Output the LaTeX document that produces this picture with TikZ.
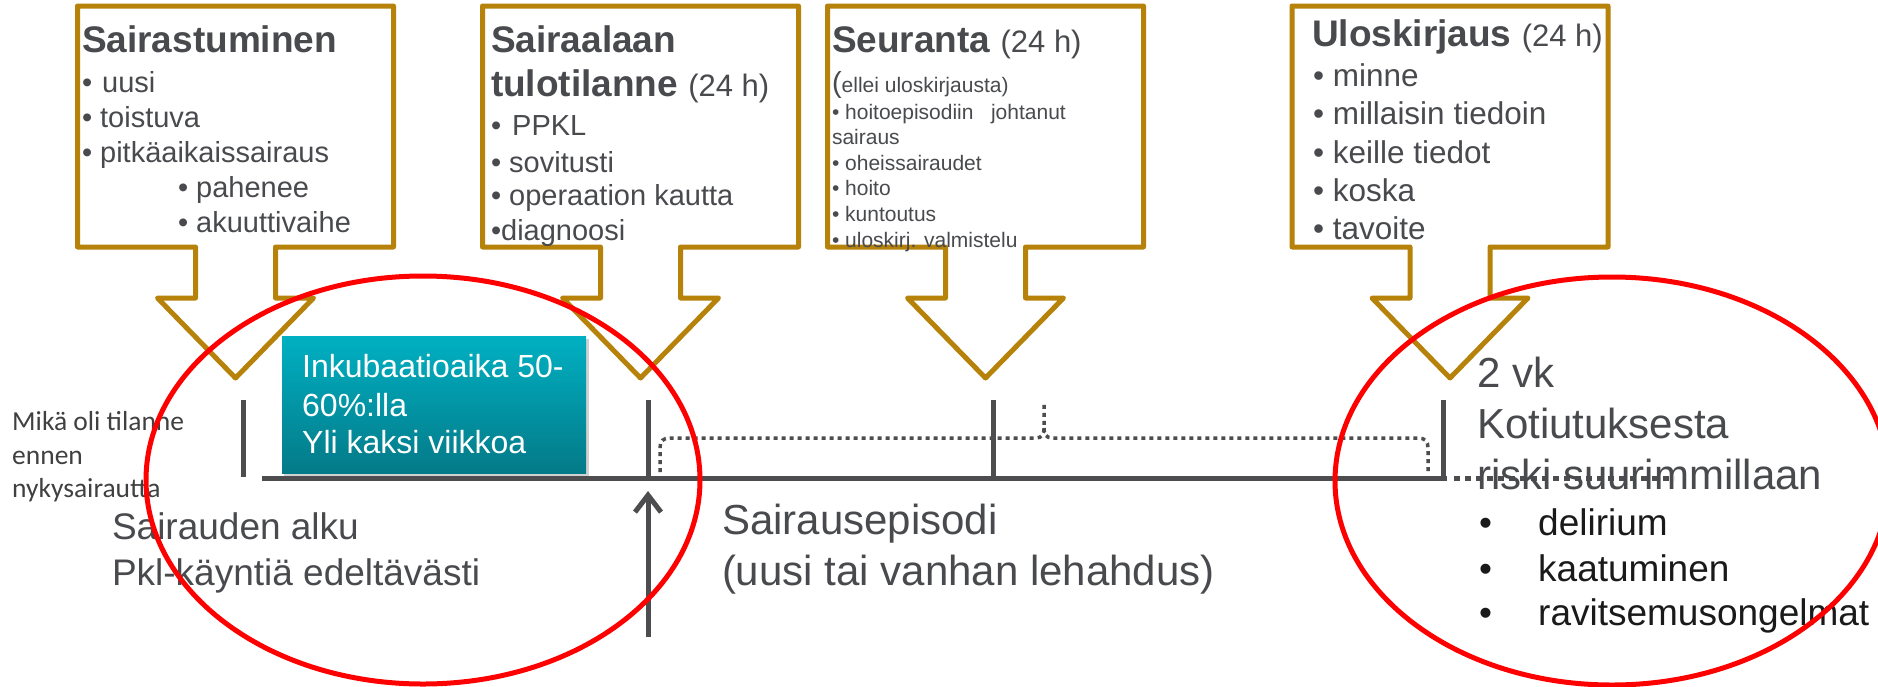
\documentclass[tikz,border=0pt]{standalone}
\usepackage{fontspec}
\setmainfont{Liberation Sans}
\newfontfamily\calibrifont{Carlito}
\usetikzlibrary{arrows.meta}
\definecolor{gold}{RGB}{182,130,10}
\definecolor{txtgray}{RGB}{72,74,77}
\definecolor{linegray}{RGB}{77,77,80}
\definecolor{tealtop}{RGB}{0,176,194}
\definecolor{tealbot}{RGB}{4,122,136}
\definecolor{nearblack}{RGB}{26,26,26}
\definecolor{mikagray}{RGB}{64,64,64}
\newcommand{\fsz}[1]{\fontsize{#1}{#1}\selectfont}
\newcommand{\mycallout}[1]{%
  \draw[callout] ({#1-158},6) -- ({#1+158},6) -- ({#1+158},247) -- ({#1+40},247)
    -- ({#1+40},298) -- ({#1+78},298) -- (#1,378) -- ({#1-78},298) -- ({#1-40},298)
    -- ({#1-40},247) -- ({#1-158},247) -- cycle;}
\begin{document}
\begin{tikzpicture}[x=1pt,y=-1pt,
  callout/.style={draw=gold, fill=white, line width=5pt, line join=round},
  txt/.style={anchor=base west, inner sep=0pt, outer sep=0pt, text=txtgray},
  head/.style={txt, font=\fsz{37}\bfseries},
  bodyA/.style={txt, font=\fsz{29}},
  bodyS/.style={txt, font=\fsz{21}},
  bodyU/.style={txt, font=\fsz{31.5}},
  teal/.style={anchor=base west, inner sep=0pt, text=white, font=\fsz{32}},
  big/.style={txt, font=\fsz{42}},
  mid/.style={txt, font=\fsz{37}},
  mika/.style={anchor=base west, inner sep=0pt, text=mikagray, font=\calibrifont\fsz{27.5}},
  risk/.style={anchor=base west, inner sep=0pt, text=nearblack, font=\fsz{37}},
  tl/.style={draw=linegray, line width=5pt},
  brk/.style={draw=linegray, line width=3.5pt, dash pattern=on 4pt off 4pt},
  redring/.style={draw=red, line width=5pt}]
\useasboundingbox (0,0) rectangle (1878,686);
\fill[white] (0,0) rectangle (1878,686);

% callouts
\mycallout{235.5}
\mycallout{640.5}
\mycallout{985.5}
\mycallout{1450}

% box 1
\node[head] (h1) at (82,52) {Sairastuminen};
\node[bodyA] (b1a) at (82,92) {•\hspace{2pt} uusi};
\node[bodyA] (b1b) at (82,127) {• toistuva};
\node[bodyA] (b1c) at (82,162) {• pitkäaikaissairaus};
\node[bodyA] (b1d) at (178,197) {• pahenee};
\node[bodyA] (b1e) at (178,232) {• akuuttivaihe};

% box 2
\node[head] (h2a) at (491,52) {Sairaalaan};
\node[head] (h2b) at (491,96) {tulotilanne {\fsz{31}\mdseries (24 h)}};
\node[bodyA] (b2a) at (491,135) {•\hspace{3pt} PPKL};
\node[bodyA] (b2b) at (491,172) {• sovitusti};
\node[bodyA] (b2c) at (491,205) {• operaation kautta};
\node[bodyA] (b2d) at (491,240) {•diagnoosi};

% box 3
\node[head] (h3) at (832,52) {Seuranta {\fsz{31}\mdseries (24 h)}};
\node[txt] (b3a) at (832,92) {{\fsz{29}(}{\fsz{21}ellei uloskirjausta)}};
\node[bodyS] (b3b) at (832,119) {• hoitoepisodiin\ \ \ johtanut};
\node[bodyS] (b3c) at (832,144) {sairaus};
\node[bodyS] (b3d) at (832,170) {• oheissairaudet};
\node[bodyS] (b3e) at (832,195) {• hoito};
\node[bodyS] (b3f) at (832,221) {• kuntoutus};
\node[bodyS] (b3g) at (832,247) {• uloskirj. valmistelu};

% box 4
\node[head] (h4) at (1312,46) {Uloskirjaus {\fsz{31}\mdseries (24 h)}};
\node[bodyU] (b4a) at (1313,86) {• minne};
\node[bodyU] (b4b) at (1313,124) {• millaisin tiedoin};
\node[bodyU] (b4c) at (1313,163) {• keille tiedot};
\node[bodyU] (b4d) at (1313,201) {• koska};
\node[bodyU] (b4e) at (1313,239) {• tavoite};

% teal box
\fill[black, opacity=0.18] (284,339) rectangle (589,476);
\node[inner sep=0pt, outer sep=0pt, anchor=north west, minimum width=304pt,
  minimum height=137pt, top color=tealtop, bottom color=tealbot] (inc) at (282,336) {};
\node[teal] (inc1) at (302,377) {Inkubaatioaika 50-};
\node[teal] (inc2) at (302,416) {60\%:lla};
\node[teal] (inc3) at (302,453) {Yli kaksi viikkoa};

% timeline
\coordinate (tlL) at (262,478);
\coordinate (tlR) at (1447,478);
\coordinate (dotS) at (1454,478);
\coordinate (dotE) at (1674,478);
\draw[tl] (tlL) -- (tlR);
\draw[tl, dash pattern=on 6pt off 5pt] (dotS) -- (dotE);
\coordinate (t1a) at (243,400); \coordinate (t1b) at (243,477);
\coordinate (t2a) at (648,400); \coordinate (t2b) at (648,478);
\coordinate (t3a) at (993,400); \coordinate (t3b) at (993,478);
\coordinate (t4a) at (1443,400); \coordinate (t4b) at (1443,480);
\draw[tl] (t1a) -- (t1b);
\draw[tl] (t2a) -- (t2b);
\draw[tl] (t3a) -- (t3b);
\draw[tl] (t4a) -- (t4b);

% dotted bracket
\draw[brk] (660,472) -- (660,448) .. controls (660,441) and (663,438) .. (670,438)
  -- (1036,438) .. controls (1042,438) and (1044,434) .. (1044,428) -- (1044,403);
\draw[brk] (1044,428) .. controls (1044,434) and (1046,438) .. (1052,438)
  -- (1418,438) .. controls (1425,438) and (1428,441) .. (1428,448) -- (1428,472);

% vertical arrow
\coordinate (arB) at (648,637);
\coordinate (arT) at (648,491);
\draw[tl, -{Straight Barb[length=17pt,width=26pt]}] (arB) -- (arT);

% lower texts
\node[mika] (m1) at (12,430) {Mikä oli tilanne};
\node[mika] (m2) at (12,464) {ennen};
\node[mika] (m3) at (12,497) {nykysairautta};

\node[mid] (sa1) at (112,539) {Sairauden alku};
\node[mid] (sa2) at (112,585) {Pkl-käyntiä edeltävästi};

\node[big] (se1) at (722,534) {Sairausepisodi};
\node[big] (se2) at (722,585) {(uusi tai vanhan lehahdus)};

\node[big] (r1) at (1477,387) {2 vk};
\node[big] (r2) at (1477,438) {Kotiutuksesta};
\node[big] (r3) at (1477,489) {riski suurimmillaan};
\node[risk] (rb1) at (1479,535) {\makebox[59pt][l]{•}delirium};
\node[risk] (rb2) at (1479,581) {\makebox[59pt][l]{•}kaatuminen};
\node[risk] (rb3) at (1479,625) {\makebox[59pt][l]{•}ravitsemusongelmat};

% red ellipses
\draw[redring] (423,480) ellipse [x radius=277, y radius=204];
\draw[redring] (1612,481) ellipse [x radius=277, y radius=204];
\end{tikzpicture}
\end{document}
